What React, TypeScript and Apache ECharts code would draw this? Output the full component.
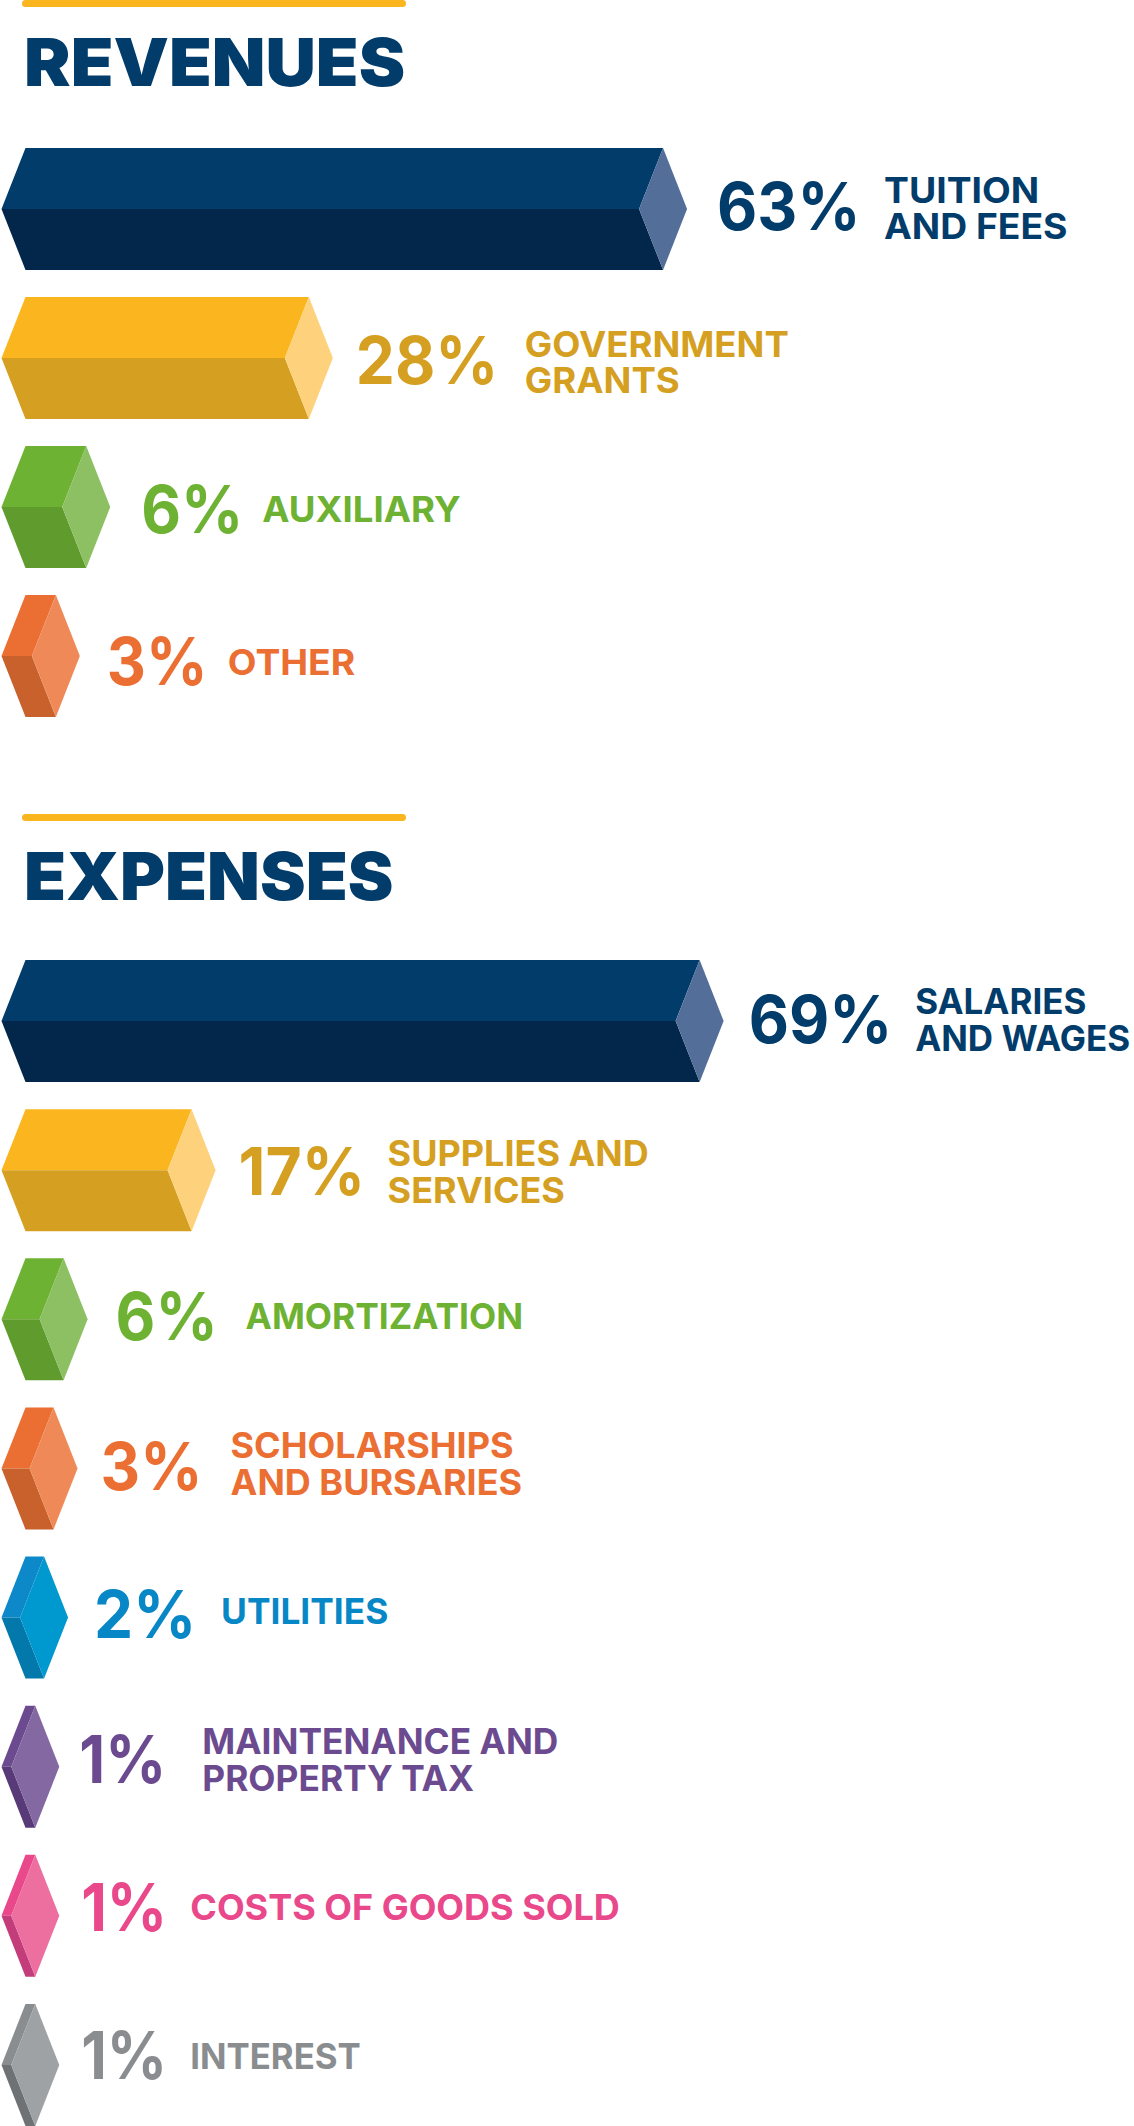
import React, { useEffect, useRef } from "react";
import * as echarts from "echarts";

// Data
const revenueLabels = ["63%", "28%", "6%", "3%"];
const revenueLengths = [63, 28, 6, 3];
const revenueNames = [["TUITION", "AND FEES"], ["GOVERNMENT", "GRANTS"], ["AUXILIARY"], ["OTHER"]];

const expenseLabels = ["69%", "17%", "6%", "3%", "2%", "1%", "1%", "1%"];
// Drawn lengths as measured: the reference's small bars are shorter than their printed percentages
const expenseLengths = [69, 17, 3.9, 2.87, 1.9, 1, 1, 1];
const expenseNames = [
  ["SALARIES", "AND WAGES"],
  ["SUPPLIES AND", "SERVICES"],
  ["AMORTIZATION"],
  ["SCHOLARSHIPS", "AND BURSARIES"],
  ["UTILITIES"],
  ["MAINTENANCE AND", "PROPERTY TAX"],
  ["COSTS OF GOODS SOLD"],
  ["INTEREST"],
];

// Styles: [top face, lower face, end face, text]
const navy = ["#013c6b", "#03274a", "#526e99", "#013c6b"];
const gold = ["#fbb61f", "#d5a021", "#fed17c", "#d5a021"];
const green = ["#6eb233", "#609b2e", "#8cc063", "#6eb233"];
const orange = ["#eb6e33", "#c8612c", "#ef8a58", "#eb6e33"];
const blue = ["#0d89c9", "#0278ab", "#0099cf", "#0787c6"];
const purple = ["#6c4a90", "#573a77", "#8468a2", "#6c4a90"];
const pink = ["#e9498b", "#c23d79", "#ec6f9f", "#e9498b"];
const gray = ["#8a8d8f", "#6f7274", "#9fa2a4", "#8a8d8f"];
const revenueColors = [navy, gold, green, orange];
const expenseColors = [navy, gold, green, orange, blue, purple, pink, gray];

// Text layout relative to each bar's tip / centre:
// [pct dx, name dx, pct baseline dy, name baseline dy, pct scaleX, name scaleX]
const revenueLayout = [
  [30, 197, 21, -6, 0.94, 1.05],
  [23, 192, 26, -1, 0.94, 1.03],
  [31, 152, 26, 15, 0.93, 1.03],
  [27, 148, 29, 19, 0.92, 1.05],
];
const expenseLayout = [
  [25, 191.5, 22, -7, 0.94, 0.985],
  [23, 172, 25, -4, 0.945, 1.014],
  [28, 158, 20, 10, 0.93, 0.995],
  [23, 153, 21, -10, 0.93, 1.014],
  [26, 153, 20, 7, 0.94, 0.995],
  [20, 143, 16, -12, 0.91, 0.995],
  [22, 131, 15, 4, 0.9, 1.014],
  [22, 131, 14, 4, 0.9, 0.98],
];

const FONT = "Inter";
const HALF = 61;
const INSET = 24;
const PCT_SIZE = 66;
const NAME_SIZE = 35.5;
const LINE_GAP = 36.5;
const CENTRAL = 0.364;

function makeRender(labels: string[], names: string[][], colors: string[][], layout: number[][]) {
  return (params: any, api: any) => {
    const i = params.dataIndex;
    const start = api.coord([0, i]);
    const end = api.coord([api.value(0), i]);
    const c = start[1];
    const x0 = start[0];
    const xe = end[0];
    const left = x0 - INSET;
    const inner = xe - INSET;
    const tip = xe + INSET;
    const [top, low, face, text] = colors[i];
    const [pctDx, nameDx, pctDy, nameDy, pctScale, nameScale] = layout[i];
    const poly = (points: number[][], fill: string) => ({
      type: "polygon",
      shape: { points },
      style: { fill },
    });
    const children: any[] = [
      poly([[left, c], [x0, c - HALF], [xe, c - HALF], [inner, c]], top),
      poly([[left, c], [x0, c + HALF], [xe, c + HALF], [inner, c]], low),
      poly([[xe, c - HALF], [tip, c], [xe, c + HALF], [inner, c]], face),
      {
        type: "text",
        x: tip + pctDx,
        y: c + pctDy - CENTRAL * PCT_SIZE,
        scaleX: pctScale,
        style: {
          text: labels[i],
          fill: text,
          font: `700 ${PCT_SIZE}px ${FONT}`,
          align: "left",
          verticalAlign: "middle",
        },
      },
    ];
    names[i].forEach((line, k) => {
      children.push({
        type: "text",
        x: tip + nameDx,
        y: c + nameDy + k * LINE_GAP - CENTRAL * NAME_SIZE,
        scaleX: nameScale,
        style: {
          text: line,
          fill: text,
          font: `700 ${NAME_SIZE}px ${FONT}`,
          align: "left",
          verticalAlign: "middle",
        },
      });
    });
    return { type: "group", children };
  };
}

const heading = (text: string, baseline: number, ruleY: number, scaleX: number) => [
  {
    type: "rect",
    shape: { x: 22, y: ruleY, width: 384, height: 7, r: 3.5 },
    style: { fill: "#fbb61f" },
  },
  {
    type: "text",
    x: 24,
    y: baseline - CENTRAL * 66,
    scaleX,
    style: {
      text,
      fill: "#013c6b",
      font: `900 66px ${FONT}`,
      align: "left",
      verticalAlign: "middle",
    },
  },
];

export default function App() {
  const ref = useRef<HTMLDivElement>(null);
  useEffect(() => {
    document.body.style.margin = "0";
    const chart = echarts.init(ref.current!, undefined, { renderer: "svg" });
    chart.setOption({
      animation: false,
      backgroundColor: "#ffffff",
      graphic: [...heading("REVENUES", 86, 0, 1.058), ...heading("EXPENSES", 900, 814, 1.04)],
      grid: [
        { left: 25.5, top: 209, width: 1012, height: 447 },
        { left: 25.5, top: 1021, width: 977, height: 1044 },
      ],
      xAxis: [
        { gridIndex: 0, type: "value", min: 0, max: 100, show: false },
        { gridIndex: 1, type: "value", min: 0, max: 100, show: false },
      ],
      yAxis: [
        { gridIndex: 0, type: "category", inverse: true, show: false, boundaryGap: false, data: revenueNames.map((n) => n.join(" ")) },
        { gridIndex: 1, type: "category", inverse: true, show: false, boundaryGap: false, data: expenseNames.map((n) => n.join(" ")) },
      ],
      series: [
        {
          type: "custom",
          name: "Revenues",
          xAxisIndex: 0,
          yAxisIndex: 0,
          clip: false,
          encode: { x: 0, y: 1 },
          data: revenueLengths.map((v, i) => [v, i]),
          renderItem: makeRender(revenueLabels, revenueNames, revenueColors, revenueLayout),
        },
        {
          type: "custom",
          name: "Expenses",
          xAxisIndex: 1,
          yAxisIndex: 1,
          clip: false,
          encode: { x: 0, y: 1 },
          data: expenseLengths.map((v, i) => [v, i]),
          renderItem: makeRender(expenseLabels, expenseNames, expenseColors, expenseLayout),
        },
      ],
    });
    return () => chart.dispose();
  }, []);
  return <div ref={ref} style={{ width: 1134, height: 2126 }} />;
}
